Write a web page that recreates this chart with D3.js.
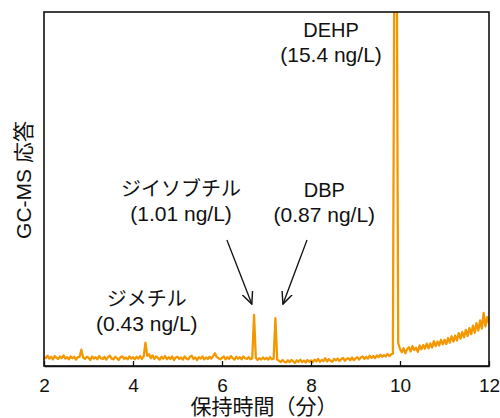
<!DOCTYPE html>
<html>
<head>
<meta charset="utf-8">
<script src="https://cdn.jsdelivr.net/npm/d3@7"></script>
<style>
  body { margin: 0; background: #fff; }
  svg text { font-family: "Liberation Sans", Arial, "Noto Sans CJK JP", sans-serif; fill: #111; }
</style>
</head>
<body>
<div id="chart"></div>
<script>
// sampling grid of the chromatogram (minutes), one point every 0.04 min
const times = d3.range(0, 251).map(i => +(2 + i * 0.04).toFixed(2));

// detector response (arbitrary units, 100 = top of the frame)
const response = [
  // 2-3 min
  2.7, 2.2, 2.9, 2.1, 2.6, 1.9, 2.8, 2.3, 2.0, 2.7, 2.2, 3.0, 2.1, 2.5, 1.9, 2.7, 2.2, 2.6, 1.8, 2.5, 2.6, 4.6, 2.4, 2.0, 2.6,
  // 3-4 min
  2.3, 1.7, 2.7, 2.1, 2.5, 1.9, 2.8, 2.2, 2.0, 2.6, 1.8, 2.5, 2.9, 2.1, 1.9, 2.6, 2.2, 1.7, 2.5, 2.7, 2.0, 2.4, 1.9, 2.7, 2.1,
  // 4-5 min
  2.5, 1.9, 2.6, 2.1, 2.8, 2.0, 2.7, 6.6, 2.9, 3.3, 2.2, 3.0, 2.0, 2.7, 2.3, 1.8, 2.6, 2.1, 2.8, 1.9, 2.5, 2.0, 2.7, 1.7, 2.4,
  // 5-6 min
  2.6, 2.0, 2.4, 1.8, 2.7, 2.1, 1.9, 2.6, 2.9, 2.0, 2.4, 1.7, 2.5, 2.1, 2.7, 1.9, 2.4, 2.0, 2.6, 2.1, 2.8, 3.6, 2.6, 2.2, 1.9,
  // 6-7 min
  2.3, 2.7, 1.9, 2.5, 2.0, 2.8, 2.2, 1.8, 2.6, 2.1, 2.5, 1.9, 2.7, 2.2, 2.0, 2.5, 1.9, 2.2, 14.4, 2.3, 1.7, 2.2, 1.8, 2.4, 1.9,
  // 7-8 min
  2.3, 1.8, 2.5, 1.9, 2.1, 13.5, 1.8, 1.5, 1.1, 1.7, 1.2, 1.0, 1.6, 1.1, 1.7, 1.3, 0.9, 1.6, 1.2, 1.8, 1.1, 1.5, 1.0, 1.7, 1.2,
  // 8-9 min
  1.6, 1.1, 1.8, 1.3, 2.0, 1.2, 1.7, 1.4, 2.2, 1.3, 1.9, 1.5, 1.2, 2.0, 1.6, 2.1, 1.4, 1.9, 2.3, 1.5, 2.0, 2.2, 1.6, 2.4, 1.7,
  // 9-10 min
  2.1, 2.5, 1.8, 2.4, 2.7, 2.0, 2.6, 2.1, 2.9, 2.3, 2.8, 2.2, 3.0, 2.5, 3.2, 2.6, 3.1, 2.7, 3.4, 2.8, 3.3, 3.5, 140, 140, 6.5,
  // 10-11 min
  4.8, 3.9, 5.0, 3.6, 4.7, 5.3, 4.1, 5.6, 4.5, 5.2, 4.0, 5.8, 4.7, 5.9, 4.9, 6.3, 5.0, 6.4, 5.2, 7.0, 5.6, 6.9, 5.8, 7.4, 6.1,
  // 11-12 min
  7.4, 6.2, 7.9, 6.6, 8.4, 6.9, 8.6, 7.2, 9.3, 7.7, 9.6, 8.1, 10.2, 8.5, 10.7, 9.0, 11.4, 9.4, 12.1, 10.0, 12.9, 10.6, 15.0, 11.2, 13.8,
  12.0
];

const xTicks = [2, 4, 6, 8, 10, 12];

// peak labels: name, amount, label centre (min), label baseline (response units)
const labelNames = ['DEHP', 'ジイソブチル', 'DBP', 'ジメチル'];
const labelAmounts = ['(15.4 ng/L)', '(1.01 ng/L)', '(0.87 ng/L)', '(0.43 ng/L)'];
const labelTimes = [8.45, 5.08, 8.3, 4.31];
const labelLevels = [92.9, 48.0, 47.8, 16.9];

// arrows from the labels to the small peaks: [time, level] at the tail and at the head
const arrowFrom = [[6.11, 35.6], [7.91, 35.6]];
const arrowTo = [[6.67, 17.5], [7.37, 17.5]];

const width = 500;
const height = 418;
const margin = { top: 12, right: 11, bottom: 52, left: 44 };

const svg = d3.select('#chart')
  .append('svg')
  .attr('width', width)
  .attr('height', height);

const x = d3.scaleLinear()
  .domain([2, 12])
  .range([margin.left, width - margin.right]);

const y = d3.scaleLinear()
  .domain([0, 100])
  .range([height - margin.bottom, margin.top]);

svg.append('clipPath')
  .attr('id', 'plot-clip')
  .append('rect')
  .attr('x', margin.left)
  .attr('y', margin.top)
  .attr('width', width - margin.left - margin.right)
  .attr('height', height - margin.top - margin.bottom);

// trace
const line = d3.line()
  .x((d, i) => x(times[i]))
  .y(d => y(d));

svg.append('path')
  .datum(response)
  .attr('clip-path', 'url(#plot-clip)')
  .attr('fill', 'none')
  .attr('stroke', '#f39800')
  .attr('stroke-width', 2.3)
  .attr('stroke-linejoin', 'round')
  .attr('d', line);

// frame
svg.append('rect')
  .attr('x', margin.left)
  .attr('y', margin.top)
  .attr('width', width - margin.left - margin.right)
  .attr('height', height - margin.top - margin.bottom)
  .attr('fill', 'none')
  .attr('stroke', '#111')
  .attr('stroke-width', 1.6);

// x axis, ticks pointing inward
const xAxis = svg.append('g')
  .attr('transform', `translate(0, ${height - margin.bottom})`)
  .call(d3.axisBottom(x)
    .tickValues(xTicks)
    .tickSizeInner(-5)
    .tickSizeOuter(0)
    .tickPadding(13));

xAxis.select('.domain').attr('stroke', '#111').attr('stroke-width', 1.6);
xAxis.selectAll('.tick line').attr('stroke', '#111').attr('stroke-width', 1.3);
xAxis.selectAll('.tick text')
  .attr('font-size', 19)
  .style('font-family', '"Liberation Sans", Arial, sans-serif')
  .attr('fill', '#111');

// axis titles
svg.append('text')
  .attr('x', 264)
  .attr('y', 414)
  .attr('text-anchor', 'middle')
  .attr('font-size', 21)
  .text('保持時間（分）');

svg.append('text')
  .attr('transform', `translate(31, 180) rotate(-90)`)
  .attr('text-anchor', 'middle')
  .attr('font-size', 21)
  .text('GC-MS 応答');

// peak labels
const labels = svg.selectAll('.peak-label')
  .data(labelNames)
  .enter().append('g')
  .attr('class', 'peak-label');

labels.append('text')
  .attr('x', (d, i) => x(labelTimes[i]))
  .attr('y', (d, i) => y(labelLevels[i]))
  .attr('text-anchor', 'middle')
  .attr('font-size', 20)
  .text(d => d);

labels.append('text')
  .attr('x', (d, i) => x(labelTimes[i]))
  .attr('y', (d, i) => y(labelLevels[i]) + 25)
  .attr('text-anchor', 'middle')
  .attr('font-size', 21)
  .text((d, i) => labelAmounts[i]);

// arrows with open heads
svg.append('defs').append('marker')
  .attr('id', 'open-arrow')
  .attr('viewBox', '0 0 12 12')
  .attr('refX', 11)
  .attr('refY', 6)
  .attr('markerWidth', 13)
  .attr('markerHeight', 13)
  .attr('markerUnits', 'userSpaceOnUse')
  .attr('orient', 'auto')
  .append('path')
  .attr('d', 'M0,1 L11,6 L0,11')
  .attr('fill', 'none')
  .attr('stroke', '#111')
  .attr('stroke-width', 1.3);

svg.selectAll('.arrow')
  .data(arrowFrom)
  .enter().append('line')
  .attr('class', 'arrow')
  .attr('x1', d => x(d[0]))
  .attr('y1', d => y(d[1]))
  .attr('x2', (d, i) => x(arrowTo[i][0]))
  .attr('y2', (d, i) => y(arrowTo[i][1]))
  .attr('stroke', '#111')
  .attr('stroke-width', 1.3)
  .attr('marker-end', 'url(#open-arrow)');
</script>
</body>
</html>
